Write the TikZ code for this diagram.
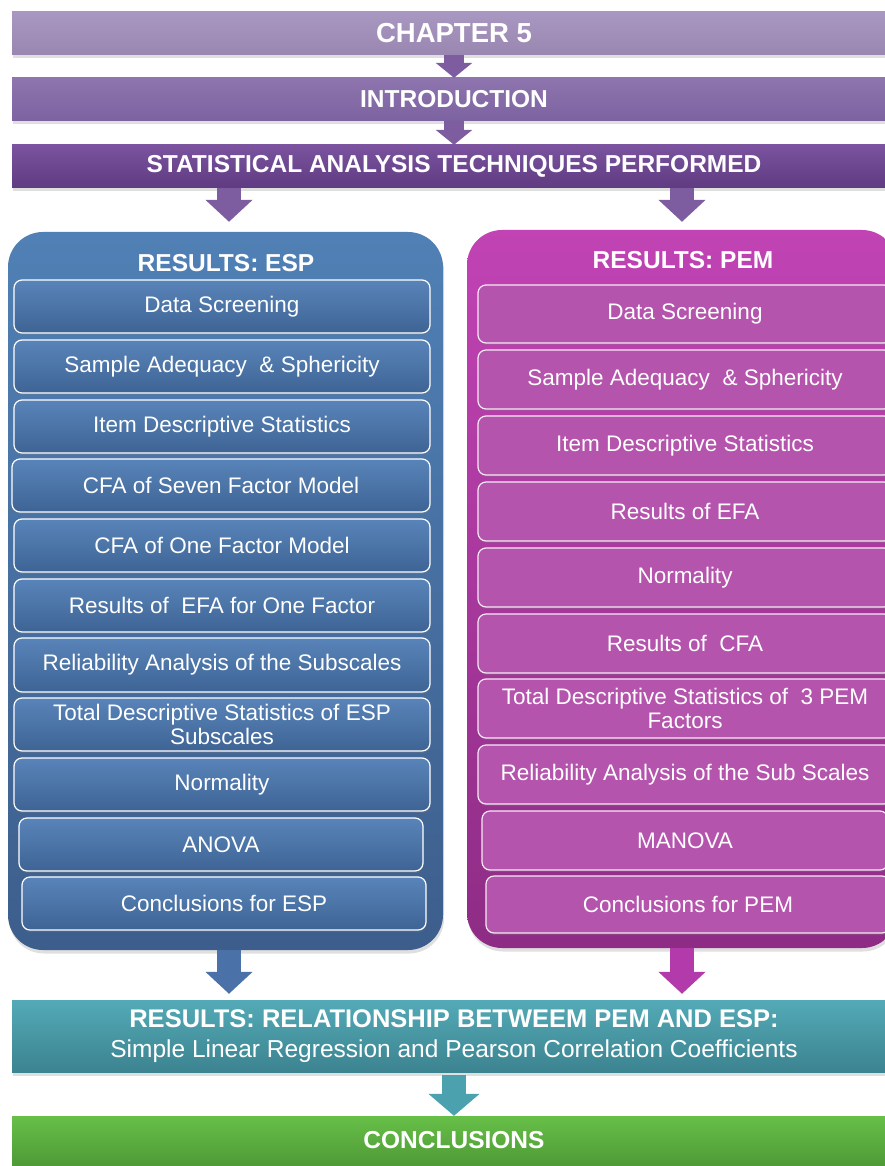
\documentclass[tikz,border=0pt]{standalone}
\usepackage{fontspec}
\setmainfont{Liberation Sans}
\usetikzlibrary{arrows.meta,shadows}

% palette
\definecolor{chapTop}{HTML}{A897C0}
\definecolor{chapBot}{HTML}{9A87B1}
\definecolor{introTop}{HTML}{8F75AE}
\definecolor{introBot}{HTML}{7C62A0}
\definecolor{statTop}{HTML}{7B539F}
\definecolor{statBot}{HTML}{5F3B81}
\definecolor{purpArrow}{HTML}{7D5CA0}
\definecolor{espTop}{HTML}{5080B5}
\definecolor{espBot}{HTML}{3D5E8C}
\definecolor{espItemTop}{HTML}{5984B9}
\definecolor{espItemBot}{HTML}{3E6495}
\definecolor{espArrow}{HTML}{4A72A8}
\definecolor{pemTop}{HTML}{C143B4}
\definecolor{pemBot}{HTML}{8E2C85}
\definecolor{pemItem}{HTML}{B554AD}
\definecolor{pemArrow}{HTML}{B23AAA}
\definecolor{relTop}{HTML}{53AAB6}
\definecolor{relBot}{HTML}{3C8390}
\definecolor{tealArrow}{HTML}{4BA1AD}
\definecolor{concTop}{HTML}{67BF48}
\definecolor{concBot}{HTML}{4E9A36}

\newcommand{\hdrfont}{\fontsize{24.5}{28}\selectfont\bfseries}
\newcommand{\itemfont}{\fontsize{22.5}{24.5}\selectfont}

\begin{document}
\begin{tikzpicture}[x=1pt,y=-1pt,
  softshadow/.style={drop shadow={opacity=0.25,shadow xshift=1pt,shadow yshift=-3.5pt}},
  bar/.style={minimum width=884pt,minimum height=43pt,inner sep=0pt,
    text=white,font=\hdrfont,softshadow},
  container/.style={rounded corners=35pt,softshadow},
  espitem/.style={draw=white,line width=1.2pt,rounded corners=8pt,
    top color=espItemTop,bottom color=espItemBot,
    minimum width=416pt,minimum height=53pt,inner sep=0pt,
    text=white,font=\itemfont,align=center,
    drop shadow={opacity=0.25,shadow xshift=0.5pt,shadow yshift=-2pt}},
  pemitem/.style={draw=white!88!pemItem,line width=1.2pt,rounded corners=8pt,
    fill=pemItem,minimum width=414pt,minimum height=59pt,inner sep=0pt,
    text=white,font=\itemfont,align=center,
    drop shadow={opacity=0.25,shadow xshift=0.5pt,shadow yshift=-2pt}},
  title/.style={text=white,font=\hdrfont,inner sep=0pt},
  smallarrow/.style={line width=20pt,-{Triangle[width=36pt,length=15pt]}},
  bigarrow/.style={line width=24pt,-{Triangle[width=46pt,length=22pt]}}
]
\useasboundingbox (0,0) rectangle (885,1166);
\clip (0,0) rectangle (885,1166);

% ---- header bars ----
\node[bar,top color=chapTop,bottom color=chapBot] (chap) at (454,33.5)
  {\fontsize{27.5}{30}\selectfont CHAPTER 5};
\node[bar,top color=introTop,bottom color=introBot] (intro) at (454,99.5)
  {INTRODUCTION};
\node[bar,top color=statTop,bottom color=statBot] (stat) at (454,166.5)
  {STATISTICAL ANALYSIS TECHNIQUES PERFORMED};

% ---- result containers ----
\path[container,top color=espTop,bottom color=espBot]
  (8,232) rectangle (443,950);
\node[minimum width=435pt,minimum height=718pt,inner sep=0pt] (esp) at (229,591) {};
\path[container,top color=pemTop,bottom color=pemBot]
  (467,230) rectangle (897,948);
\node[minimum width=430pt,minimum height=718pt,inner sep=0pt] (pem) at (682,589) {};

\node[title] (espTitle) at (226,263) {RESULTS: ESP};
\node[title] (pemTitle) at (683,260) {RESULTS: PEM};

% ---- ESP steps ----
\node[espitem] (e1)  at (222,306.5) {Data Screening};
\node[espitem] (e2)  at (222,366.5) {Sample Adequacy~ \& Sphericity};
\node[espitem] (e3)  at (222,426.5) {Item Descriptive Statistics};
\node[espitem,minimum width=418pt] (e4) at (221,485.5) {CFA of Seven Factor Model};
\node[espitem] (e5)  at (222,545.5) {CFA of One Factor Model};
\node[espitem] (e6)  at (222,605.5) {Results of~ EFA for One Factor};
\node[espitem,minimum height=54pt] (e7) at (222,665) {Reliability Analysis of the Subscales};
\node[espitem] (e8)  at (222,724.5) {Total Descriptive Statistics of ESP\\Subscales};
\node[espitem] (e9)  at (222,784.5) {Normality};
\node[espitem,minimum width=404pt] (e10) at (221,844.5) {ANOVA};
\node[espitem,minimum width=404pt] (e11) at (224,903.5) {Conclusions for ESP};

% ---- PEM steps ----
\node[pemitem,minimum height=58pt] (p1) at (685,314) {Data Screening};
\node[pemitem] (p2)  at (685,379.5) {Sample Adequacy~ \& Sphericity};
\node[pemitem] (p3)  at (685,445.5) {Item Descriptive Statistics};
\node[pemitem] (p4)  at (685,511.5) {Results of EFA};
\node[pemitem] (p5)  at (685,577.5) {Normality};
\node[pemitem] (p6)  at (685,643.5) {Results of~ CFA};
\node[pemitem] (p7)  at (685,708.5) {Total Descriptive Statistics of~ 3 PEM\\Factors};
\node[pemitem] (p8)  at (685,774.5) {Reliability Analysis of the Sub Scales};
\node[pemitem,minimum width=406pt] (p9) at (685,840.5) {MANOVA};
\node[pemitem,minimum width=404pt,minimum height=57pt] (p10) at (688,904.5) {Conclusions for PEM};

% ---- relationship and conclusions ----
\node[bar,minimum height=72pt,align=center,top color=relTop,bottom color=relBot,
  font=\fontsize{25.5}{30}\selectfont\bfseries] (rel)
  at (454,1036)
  {RESULTS: RELATIONSHIP BETWEEM PEM AND ESP:\\
   {\fontsize{24.5}{28}\selectfont\mdseries Simple Linear Regression and Pearson Correlation Coefficients}};
\node[bar,minimum height=50pt,top color=concTop,bottom color=concBot] (conc)
  at (454,1141) {\raisebox{2pt}{CONCLUSIONS}};

% ---- connectors ----
\draw[smallarrow,purpArrow] (chap.south) -- (intro.north);
\draw[smallarrow,purpArrow] (intro.south) -- (stat.north);
\draw[bigarrow,purpArrow,shorten >=10pt] (stat.south -| esp.north) -- (esp.north);
\draw[bigarrow,purpArrow,shorten >=8pt] (stat.south -| pem.north) -- (pem.north);
\draw[bigarrow,espArrow,shorten >=6pt] (esp.south) -- (rel.north -| esp.south);
\draw[bigarrow,pemArrow,shorten >=6pt] (pem.south) -- (rel.north -| pem.south);
\draw[line width=24pt,tealArrow,-{Triangle[width=50pt,length=22pt]},shorten <=3pt]
  (rel.south) -- (conc.north);
\end{tikzpicture}
\end{document}
